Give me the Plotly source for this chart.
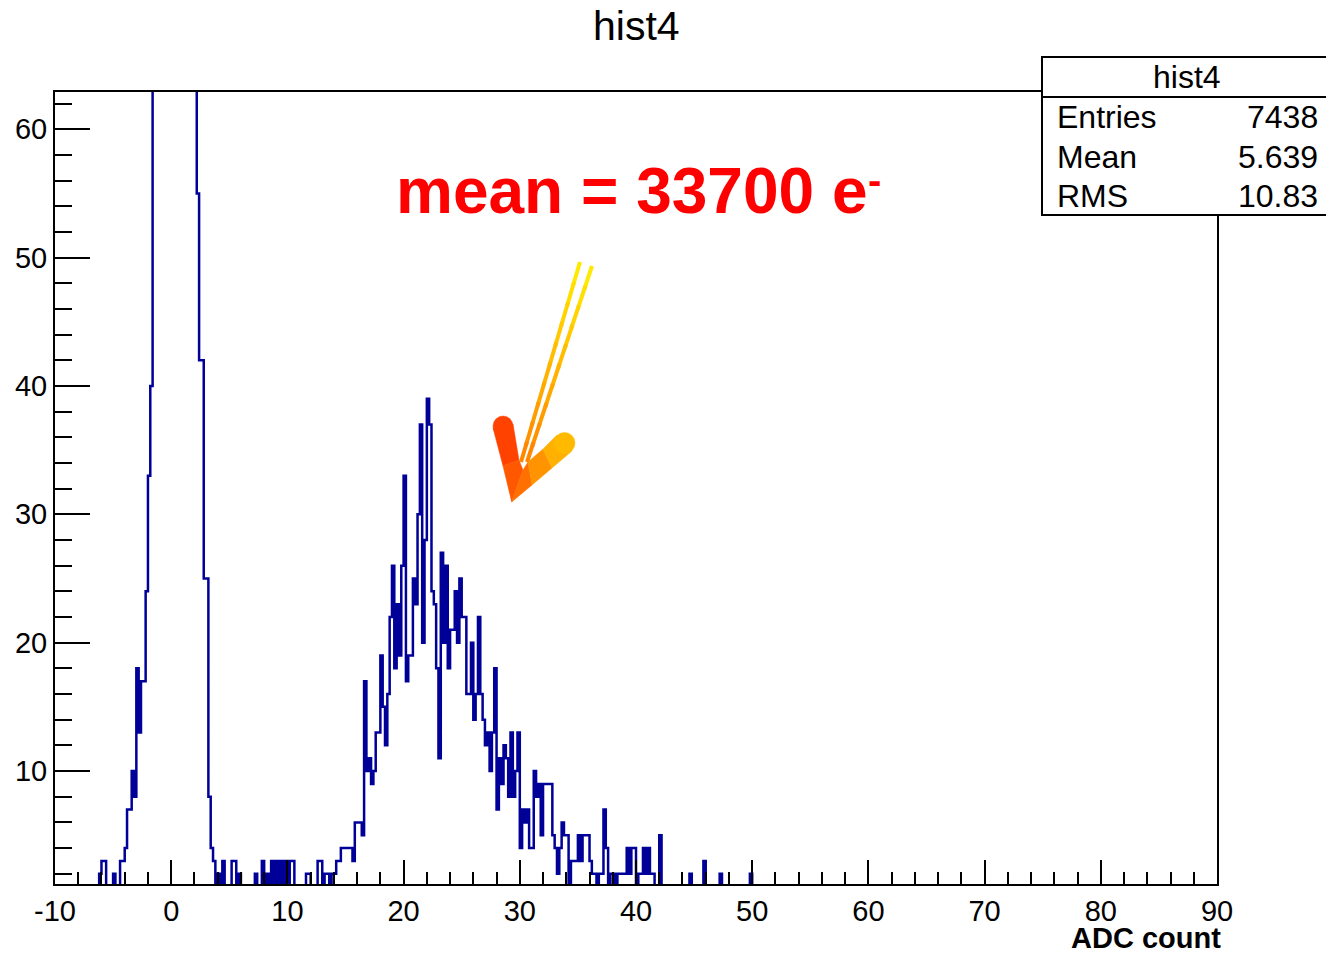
import plotly.graph_objects as go

# ---------------- data ----------------
bin_start = -8.0
bin_width = 0.2
counts = [
    0, 0, 0, 0, 0, 0, 0, 0, 0, 2,            # -8.0
    3, 3, 0, 1, 0, 2, 0, 1, 3, 3,            # -6.0
    4, 7, 7, 10, 8, 18, 13, 17, 17, 24,      # -4.0
    33, 40, 68, 95, 150, 220, 300, 380, 440, 480,  # -2.0
    500, 490, 450, 400, 330, 260, 190, 130, 90, 70,  # 0.0
    64, 55, 42, 42, 25, 25, 8, 4, 3, 1,      # 2.0
    2, 0, 3, 1, 0, 1, 3, 3, 1, 2,            # 4.0
    0, 1, 0, 1, 0, 1, 2, 0, 1, 3,            # 6.0
    1, 2, 0, 3, 1, 3, 1, 3, 0, 3,            # 8.0
    1, 3, 3, 0, 1, 0, 1, 0, 2, 2,            # 10.0
    1, 0, 1, 3, 3, 1, 2, 2, 1, 2,            # 12.0
    2, 3, 3, 4, 4, 4, 4, 4, 3, 6,            # 14.0
    6, 6, 5, 17, 10, 11, 9, 10, 13, 13,      # 16.0
    19, 15, 12, 16, 22, 26, 18, 23, 19, 26,  # 18.0
    33, 17, 19, 19, 25, 23, 30, 37, 20, 28,  # 20.0
    39, 37, 24, 23, 18, 11, 27, 20, 26, 18,  # 22.0
    21, 21, 24, 20, 25, 22, 22, 16, 16, 20,  # 24.0
    14, 16, 22, 16, 14, 12, 13, 10, 13, 18,  # 26.0
    7, 11, 9, 12, 11, 8, 13, 8, 10, 13,      # 28.0
    4, 7, 6, 7, 4, 4, 10, 8, 9, 5,           # 30.0
    9, 9, 9, 9, 5, 4, 2, 4, 6, 5,            # 32.0
    5, 1, 3, 3, 3, 5, 3, 5, 5, 5,            # 34.0
    3, 2, 2, 1, 2, 2, 7, 4, 1, 2,            # 36.0
    2, 1, 2, 2, 2, 2, 4, 2, 4, 4,            # 38.0
    1, 2, 2, 4, 2, 4, 2, 2, 1, 1,            # 40.0
    5, 0, 1, 0, 1, 0, 0, 1, 0, 0,            # 42.0
    1, 0, 0, 2, 0, 1, 0, 0, 1, 3,            # 44.0
    0, 0, 1, 0, 0, 0, 2, 0, 0, 1,            # 46.0
    0, 0, 0, 1, 0, 0, 0, 0, 0, 2,            # 48.0
    0,                                       # 50.0
]
x_tickvals = [-10, 0, 10, 20, 30, 40, 50, 60, 70, 80, 90]
x_ticktext = ["-10", "0", "10", "20", "30", "40", "50", "60", "70", "80", "90"]
y_tickvals = [10, 20, 30, 40, 50, 60]
y_ticktext = ["10", "20", "30", "40", "50", "60"]
stats_names = ["Entries", "Mean", "RMS"]
stats_values = ["7438", "5.639", "10.83"]
title_text = "hist4"
x_title = "ADC count"
note_text = "mean = 33700 e"
note_sup = "-"

# ---------------- geometry ----------------
W, H = 1326, 954
L, R, T, B = 55, 1217, 92, 884
PW, PH = R - L, B - T


def px(xp):
    return (xp - L) / PW


def py(yp):
    return (B - yp) / PH


FONT = "Liberation Sans, Arial, Helvetica, sans-serif"

# step histogram outline
xs = [bin_start + i * bin_width for i in range(len(counts))]
xs_full = [xs[0]] + xs + [xs[-1] + bin_width, xs[-1] + bin_width]
ys_full = [0] + counts + [counts[-1], 0]

fig = go.Figure()
fig.add_trace(go.Scatter(
    x=xs_full, y=ys_full, mode="lines",
    line=dict(shape="hv", color="#000099", width=2.5),
    hoverinfo="skip", showlegend=False,
))

fig.update_layout(
    width=W, height=H,
    margin=dict(l=L, r=W - R, t=T, b=H - B, pad=0),
    paper_bgcolor="white", plot_bgcolor="white",
    font=dict(family=FONT, color="black"),
    showlegend=False,
    xaxis=dict(
        range=[-10, 90], showgrid=False, zeroline=False,
        showline=True, linecolor="black", linewidth=2, mirror=True,
        ticks="inside", ticklen=24, tickwidth=2, tickcolor="black",
        tickvals=x_tickvals, ticktext=x_ticktext,
        tickfont=dict(size=29, family=FONT),
        minor=dict(ticks="inside", ticklen=12, tickwidth=2, tickcolor="black",
                   dtick=2, tick0=0, showgrid=False),
    ),
    yaxis=dict(
        range=[1.2, 62.9], showgrid=False, zeroline=False,
        showline=True, linecolor="black", linewidth=2, mirror=True,
        ticks="inside", ticklen=35, tickwidth=2, tickcolor="black",
        tickvals=y_tickvals, ticktext=y_ticktext,
        tickfont=dict(size=29, family=FONT),
        minor=dict(ticks="inside", ticklen=17, tickwidth=2, tickcolor="black",
                   dtick=2, tick0=0, showgrid=False),
    ),
)

shapes = []
annotations = []

# title
annotations.append(dict(text=title_text, xref="paper", yref="paper",
                        x=px(636), y=py(26), xanchor="center", yanchor="middle",
                        showarrow=False, font=dict(size=41, family=FONT)))
# x-axis title
annotations.append(dict(text="<b>" + x_title + "</b>", xref="paper", yref="paper",
                        x=px(1223), y=py(938), xanchor="right", yanchor="middle",
                        showarrow=False, font=dict(size=29, family=FONT)))

# stats box
shapes.append(dict(type="rect", xref="paper", yref="paper",
                   x0=px(1042), x1=px(1345), y0=py(215), y1=py(57),
                   fillcolor="white", line=dict(color="black", width=2), layer="above"))
shapes.append(dict(type="line", xref="paper", yref="paper",
                   x0=px(1042), x1=px(1345), y0=py(97), y1=py(97),
                   line=dict(color="black", width=2), layer="above"))
annotations.append(dict(text=title_text, xref="paper", yref="paper",
                        x=px(1187), y=py(77), xanchor="center", yanchor="middle",
                        showarrow=False, font=dict(size=32, family=FONT)))
for i, (n, v) in enumerate(zip(stats_names, stats_values)):
    yy = 117 + i * 39.5
    annotations.append(dict(text=n, xref="paper", yref="paper",
                            x=px(1055), y=py(yy), xanchor="left", yanchor="middle",
                            showarrow=False, font=dict(size=32, family=FONT)))
    annotations.append(dict(text=v, xref="paper", yref="paper",
                            x=px(1320), y=py(yy), xanchor="right", yanchor="middle",
                            showarrow=False, font=dict(size=32, family=FONT)))

# red note
annotations.append(dict(text="<b>" + note_text + "</b>", xref="paper", yref="paper",
                        x=px(394), y=py(191), xanchor="left", yanchor="middle",
                        showarrow=False, font=dict(size=64, family=FONT, color="#ff0000")))
annotations.append(dict(text="<b>" + note_sup + "</b>", xref="paper", yref="paper",
                        x=px(874), y=py(180), xanchor="center", yanchor="middle",
                        showarrow=False, font=dict(size=40, family=FONT, color="#ff0000")))


# arrow: gradient shaft (two thin lines)
def lerp_color(c1, c2, t):
    r = round(c1[0] + (c2[0] - c1[0]) * t)
    g = round(c1[1] + (c2[1] - c1[1]) * t)
    b = round(c1[2] + (c2[2] - c1[2]) * t)
    return f"rgb({r},{g},{b})"


top_c = (255, 238, 0)
bot_c = (255, 130, 0)
for (x0, y0, x1, y1) in [(580, 262, 521, 462), (592, 266, 527, 462)]:
    n = 10
    for k in range(n):
        t0, t1 = k / n, (k + 1) / n
        te = t1 + 0.02 if k < n - 1 else t1
        shapes.append(dict(type="line", xref="paper", yref="paper",
                           x0=px(x0 + (x1 - x0) * t0), y0=py(y0 + (y1 - y0) * t0),
                           x1=px(x0 + (x1 - x0) * te), y1=py(y0 + (y1 - y0) * te),
                           line=dict(color=lerp_color(top_c, bot_c, (t0 + t1) / 2), width=4),
                           layer="above"))


def poly(pts, color):
    d = "M " + " L ".join(f"{px(a):.5f},{py(b):.5f}" for a, b in pts) + " Z"
    return dict(type="path", xref="paper", yref="paper", path=d,
                fillcolor=color, line=dict(color=color, width=0.5), layer="above")


def circ(cx, cy, r, color):
    return dict(type="circle", xref="paper", yref="paper",
                x0=px(cx - r), x1=px(cx + r), y0=py(cy + r), y1=py(cy - r),
                fillcolor=color, line=dict(color=color, width=0.5), layer="above")


# chevron head: left arm (red-orange), right arm (orange -> yellow-orange)
shapes.append(poly([(493, 428), (503, 466), (519, 460), (513, 424)], "#ff4200"))
shapes.append(poly([(503, 466), (511.7, 502), (523, 470), (519, 460)], "#ff5800"))
shapes.append(circ(503, 426, 10, "#ff4200"))
shapes.append(poly([(511.7, 502), (532, 485), (528, 462), (523, 470)], "#ff7000"))
shapes.append(poly([(532, 485), (552, 468), (543, 449), (528, 462)], "#ff9400"))
shapes.append(poly([(552, 468), (572, 451), (557, 435), (543, 449)], "#ffb000"))
shapes.append(circ(564.5, 443, 10.5, "#ffba00"))

fig.update_layout(shapes=shapes, annotations=annotations)
fig.write_html("out.html")
